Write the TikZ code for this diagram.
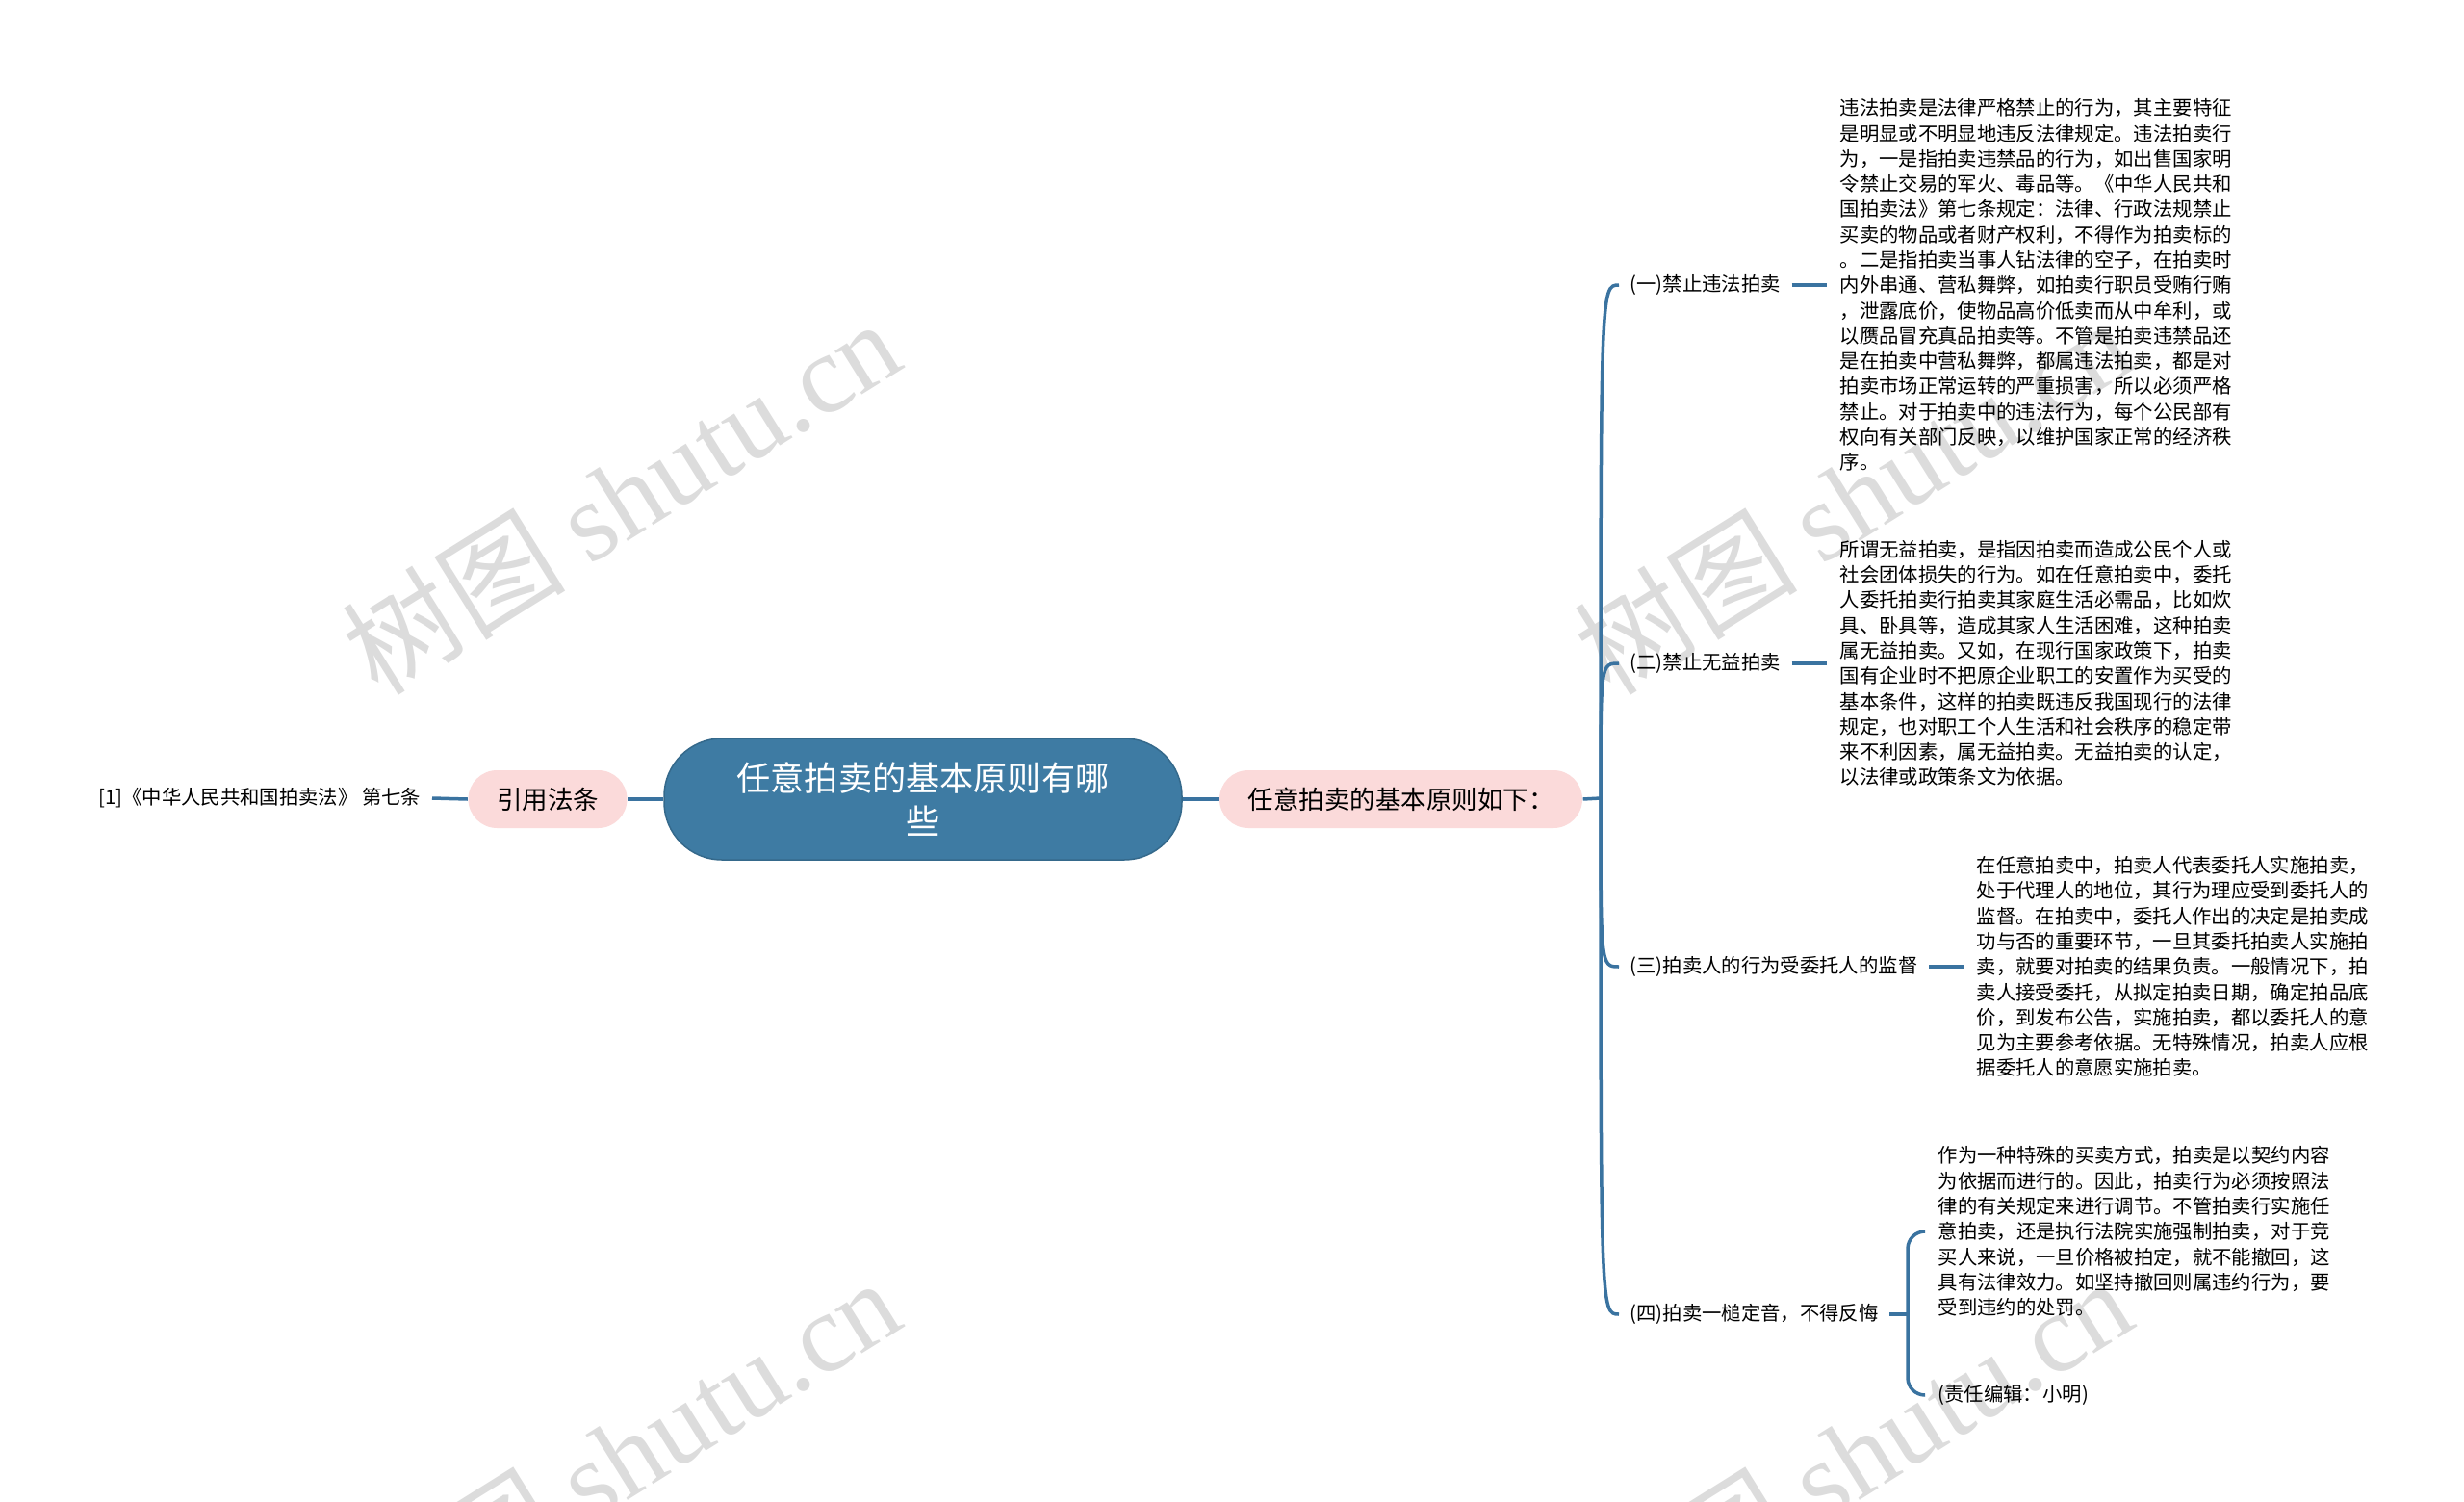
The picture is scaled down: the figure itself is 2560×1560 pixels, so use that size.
\documentclass[tikz,border=0pt]{standalone}
\usepackage{fontspec}
\setmainfont{Noto Sans CJK SC}
\newfontfamily\wmserif{Liberation Serif}
\usetikzlibrary{positioning}
\definecolor{mapBlue}{HTML}{3E7BA3}
\definecolor{mapLine}{HTML}{3A73A0}
\definecolor{mapPink}{HTML}{FBDADA}
\definecolor{wmGray}{HTML}{DCDCDC}

\begin{document}
\begin{tikzpicture}[x=0.1mm, y=-0.1mm,
  link/.style={draw=mapLine, line width=0.35mm},
  root/.style={fill=mapBlue, draw=mapBlue!85!black, line width=0.15mm, rounded corners=6mm,
    minimum width=53.8mm, minimum height=12.6mm, text=white, align=center,
    font=\fontsize{10}{12.8}\selectfont},
  pill/.style={fill=mapPink, rounded corners=3mm, minimum height=6mm, inner xsep=2.95mm,
    font=\fontsize{7.54}{9}\selectfont},
  lbl/.style={inner sep=1.1mm, font=\fontsize{5.79}{7.48}\selectfont},
  para/.style={inner sep=1.3mm, align=left, anchor=west, font=\fontsize{5.79}{7.48}\selectfont},
  wm/.style={text=wmGray, rotate=32, font=\fontsize{33}{38}\selectfont}]
\useasboundingbox[fill=white] (0,0) rectangle (2560,1560);
% watermarks
\begin{scope}
\clip (0,0) rectangle (2560,1560);
\node[wm] (wmA) at (645,515) {树图 {\wmserif shutu.cn}};
\node[wm] (wmB) at (1925,515) {树图 {\wmserif shutu.cn}};
\node[wm] (wmC) at (645,1511) {树图 {\wmserif shutu.cn}};
\node[wm] (wmD) at (1925,1511) {树图 {\wmserif shutu.cn}};
\end{scope}
% centre and first level
\node[root] (root) at (959,830) {任意拍卖的基本原则有哪\\些};
\node[pill] (ref) at (569,830) {引用法条};
\node[pill] (mr) at (1455.5,830) {任意拍卖的基本原则如下：};
\node[lbl, anchor=east] (cite) at (449,829) {[1]《中华人民共和国拍卖法》 第七条};
\draw[link] (root.west) -- (ref.east);
\draw[link] (ref.west) -- (cite.east);
\draw[link] (root.east) -- (mr.west);
% principles
\node[lbl, anchor=west] (s1) at (1682,296) {(一)禁止违法拍卖};
\node[lbl, anchor=west] (s2) at (1682,689) {(二)禁止无益拍卖};
\node[lbl, anchor=west] (s3) at (1682,1004) {(三)拍卖人的行为受委托人的监督};
\node[lbl, anchor=west] (s4) at (1682,1365) {(四)拍卖一槌定音，不得反悔};
\coordinate (J) at (1663,829);
\draw[link] (mr.east) -- (J);
\foreach \s in {s1,s2,s3,s4}
  \draw[link] (J) .. controls (J |- \s.west) .. (\s.west);
% explanations
\node[para] (t1) at (1898,296) {违法拍卖是法律严格禁止的行为，其主要特征\\
是明显或不明显地违反法律规定。违法拍卖行\\
为，一是指拍卖违禁品的行为，如出售国家明\\
令禁止交易的军火、毒品等。《中华人民共和\\
国拍卖法》第七条规定：法律、行政法规禁止\\
买卖的物品或者财产权利，不得作为拍卖标的\\
。二是指拍卖当事人钻法律的空子，在拍卖时\\
内外串通、营私舞弊，如拍卖行职员受贿行贿\\
，泄露底价，使物品高价低卖而从中牟利，或\\
以赝品冒充真品拍卖等。不管是拍卖违禁品还\\
是在拍卖中营私舞弊，都属违法拍卖，都是对\\
拍卖市场正常运转的严重损害，所以必须严格\\
禁止。对于拍卖中的违法行为，每个公民部有\\
权向有关部门反映，以维护国家正常的经济秩\\
序。};
\node[para] (t2) at (1898,689) {所谓无益拍卖，是指因拍卖而造成公民个人或\\
社会团体损失的行为。如在任意拍卖中，委托\\
人委托拍卖行拍卖其家庭生活必需品，比如炊\\
具、卧具等，造成其家人生活困难，这种拍卖\\
属无益拍卖。又如，在现行国家政策下，拍卖\\
国有企业时不把原企业职工的安置作为买受的\\
基本条件，这样的拍卖既违反我国现行的法律\\
规定，也对职工个人生活和社会秩序的稳定带\\
来不利因素，属无益拍卖。无益拍卖的认定，\\
以法律或政策条文为依据。};
\node[para] (t3) at (2040,1004) {在任意拍卖中，拍卖人代表委托人实施拍卖，\\
处于代理人的地位，其行为理应受到委托人的\\
监督。在拍卖中，委托人作出的决定是拍卖成\\
功与否的重要环节，一旦其委托拍卖人实施拍\\
卖，就要对拍卖的结果负责。一般情况下，拍\\
卖人接受委托，从拟定拍卖日期，确定拍品底\\
价，到发布公告，实施拍卖，都以委托人的意\\
见为主要参考依据。无特殊情况，拍卖人应根\\
据委托人的意愿实施拍卖。};
\node[para] (t4a) at (2000,1279) {作为一种特殊的买卖方式，拍卖是以契约内容\\
为依据而进行的。因此，拍卖行为必须按照法\\
律的有关规定来进行调节。不管拍卖行实施任\\
意拍卖，还是执行法院实施强制拍卖，对于竞\\
买人来说，一旦价格被拍定，就不能撤回，这\\
具有法律效力。如坚持撤回则属违约行为，要\\
受到违约的处罚。};
\node[para] (t4b) at (2000,1449) {(责任编辑：小明)};
\draw[link] (s1.east) -- (t1.west);
\draw[link] (s2.east) -- (t2.west);
\draw[link] (s3.east) -- (t3.west);
\coordinate (B4) at (1982,1365);
\draw[link] (s4.east) -- (B4);
\draw[link, rounded corners=1.8mm] (B4) |- (t4a.west);
\draw[link, rounded corners=1.8mm] (B4) |- (t4b.west);
\end{tikzpicture}
\end{document}
